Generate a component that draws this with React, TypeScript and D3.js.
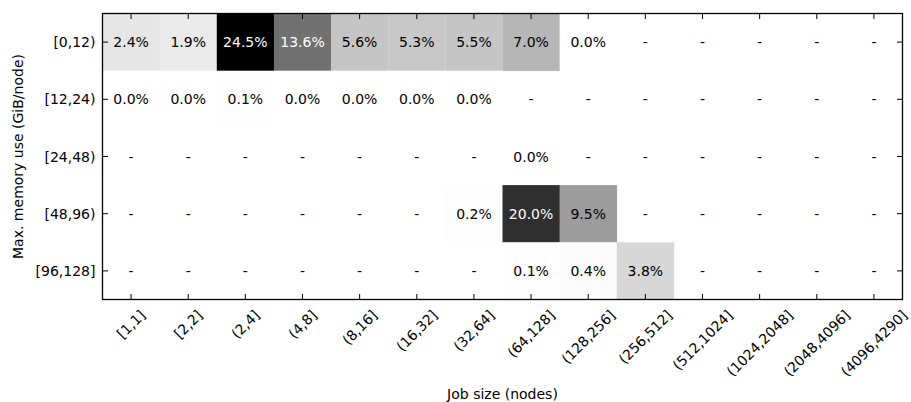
import React from "react";
import * as d3 from "d3";

const jobSizes = ["[1,1]", "[2,2]", "(2,4]", "(4,8]", "(8,16]", "(16,32]", "(32,64]", "(64,128]", "(128,256]", "(256,512]", "(512,1024]", "(1024,2048]", "(2048,4096]", "(4096,4290]"];
const memBins = ["[0,12)", "[12,24)", "[24,48)", "[48,96)", "[96,128]"];

const row0: (number | null)[] = [2.4, 1.9, 24.5, 13.6, 5.6, 5.3, 5.5, 7.0, 0.0, null, null, null, null, null];
const row1: (number | null)[] = [0.0, 0.0, 0.1, 0.0, 0.0, 0.0, 0.0, null, null, null, null, null, null, null];
const row2: (number | null)[] = [null, null, null, null, null, null, null, 0.0, null, null, null, null, null, null];
const row3: (number | null)[] = [null, null, null, null, null, null, 0.2, 20.0, 9.5, null, null, null, null, null];
const row4: (number | null)[] = [null, null, null, null, null, null, null, 0.1, 0.4, 3.8, null, null, null, null];
const rows = [row0, row1, row2, row3, row4];

const W = 911;
const H = 402;
const left = 102.5;
const right = 902.5;
const top = 13.5;
const bottom = 299.5;
const FONT = "DejaVu Sans, sans-serif";
const FS = 14;

let ctx: CanvasRenderingContext2D | null = null;
function measure(s: string): number {
  if (!ctx) {
    const c = document.createElement("canvas");
    ctx = c.getContext("2d");
  }
  if (!ctx) return s.length * FS * 0.6;
  ctx.font = `${FS}px DejaVu Sans`;
  return ctx.measureText(s).width;
}

export default function App() {
  const x = d3.scaleBand<string>().domain(jobSizes).range([left, right]);
  const y = d3.scaleBand<string>().domain(memBins).range([top, bottom]);
  const allVals = rows.flat().filter((v) => v !== null) as number[];
  const vmax = d3.max(allVals) as number;
  const color = d3.scaleLinear<number>().domain([0, vmax]).range([255, 0]);
  const gray = (v: number) => {
    const g = Math.round(color(v));
    return `rgb(${g},${g},${g})`;
  };
  const bw = x.bandwidth();
  const bh = y.bandwidth();
  const tickLen = 5.5;

  return (
    <svg width={W} height={H} style={{ position: "absolute", left: 0, top: 0 }} fontFamily={FONT}>
      <rect x={0} y={0} width={W} height={H} fill="white" />
      {rows.map((r, ri) =>
        r.map((v, ci) =>
          v === null ? null : (
            <rect
              key={`c${ri}-${ci}`}
              x={x(jobSizes[ci])}
              y={y(memBins[ri])}
              width={bw + 0.3}
              height={bh + 0.3}
              fill={gray(v)}
            />
          )
        )
      )}
      {rows.map((r, ri) =>
        r.map((v, ci) => (
          <text
            key={`t${ri}-${ci}`}
            x={(x(jobSizes[ci]) as number) + bw / 2}
            y={(y(memBins[ri]) as number) + bh / 2}
            textAnchor="middle"
            dominantBaseline="central"
            fontSize={FS}
            fill={v !== null && v > vmax / 2 ? "white" : "black"}
          >
            {v === null ? "-" : `${v.toFixed(1)}%`}
          </text>
        ))
      )}
      {/* ticks */}
      {jobSizes.map((j) => {
        const cx = (x(j) as number) + bw / 2;
        return (
          <g key={`xt${j}`} stroke="black" strokeWidth={1}>
            <line x1={cx} x2={cx} y1={top} y2={top + tickLen} />
            <line x1={cx} x2={cx} y1={bottom} y2={bottom - tickLen} />
          </g>
        );
      })}
      {memBins.map((m) => {
        const cy = (y(m) as number) + bh / 2;
        return (
          <g key={`yt${m}`} stroke="black" strokeWidth={1}>
            <line x1={left} x2={left + tickLen} y1={cy} y2={cy} />
            <line x1={right} x2={right - tickLen} y1={cy} y2={cy} />
          </g>
        );
      })}
      <rect x={left} y={top} width={right - left} height={bottom - top} fill="none" stroke="black" strokeWidth={1.3} />
      {/* y tick labels */}
      {memBins.map((m) => (
        <text
          key={`yl${m}`}
          x={95.5}
          y={(y(m) as number) + bh / 2}
          textAnchor="end"
          dominantBaseline="central"
          fontSize={FS}
          fill="black"
        >
          {m}
        </text>
      ))}
      {/* x tick labels */}
      {jobSizes.map((j) => {
        const cx = (x(j) as number) + bw / 2;
        const L = measure(j);
        const ext = (L + 11.5) * Math.SQRT1_2;
        const cy = 308.5 + ext / 2;
        return (
          <text
            key={`xl${j}`}
            x={cx}
            y={cy}
            textAnchor="middle"
            dominantBaseline="central"
            fontSize={FS}
            fill="black"
            transform={`rotate(-45, ${cx}, ${cy})`}
          >
            {j}
          </text>
        );
      })}
      <text x={(left + right) / 2} y={398.5} textAnchor="middle" fontSize={FS} fill="black">
        Job size (nodes)
      </text>
      <text
        x={0}
        y={0}
        transform={`translate(22.5, ${(top + bottom) / 2}) rotate(-90)`}
        textAnchor="middle"
        fontSize={FS}
        fill="black"
      >
        Max. memory use (GiB/node)
      </text>
    </svg>
  );
}
